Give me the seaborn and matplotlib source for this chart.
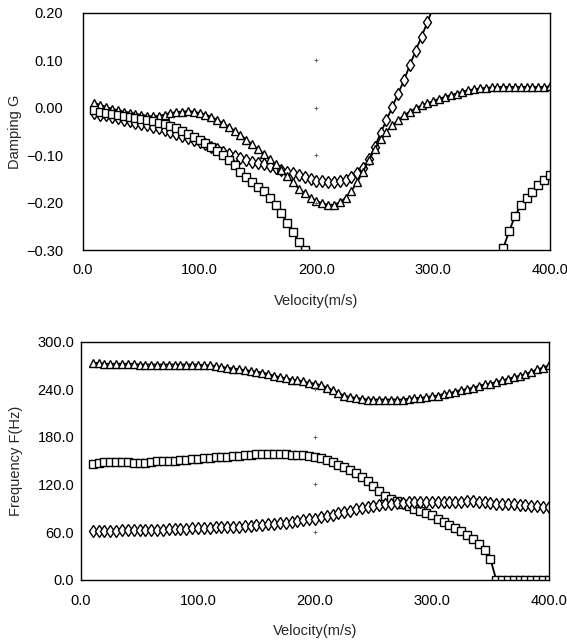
import numpy as np
import pandas as pd
import matplotlib
matplotlib.use("Agg")
import matplotlib.pyplot as plt
import seaborn as sns

# velocity grid (m/s), one marker every 5 m/s
velocity = np.arange(10, 401, 5)

# damping G, mode with diamonds (goes off the top after ~300 m/s)
g_diamond = [-0.011, -0.014, -0.016, -0.019, -0.022, -0.025, -0.028, -0.031, -0.034, -0.037,
             -0.040, -0.043, -0.047, -0.051, -0.055, -0.059, -0.063, -0.067, -0.072, -0.077,
             -0.082, -0.087, -0.092, -0.097, -0.101, -0.105, -0.109, -0.113, -0.116, -0.119,
             -0.123, -0.127, -0.130, -0.134, -0.137, -0.141, -0.146, -0.150, -0.153, -0.155,
             -0.156, -0.156, -0.154, -0.151, -0.146, -0.138, -0.126, -0.108, -0.082, -0.053,
             -0.026, 0.002, 0.030, 0.058, 0.090, 0.120, 0.150, 0.180, 0.212, 0.245]
# damping G, mode with triangles
g_triangle = [0.010, 0.006, 0.002, -0.002, -0.005, -0.008, -0.010, -0.013, -0.015, -0.017,
              -0.018, -0.017, -0.014, -0.011, -0.009, -0.008, -0.007, -0.008, -0.011, -0.014,
              -0.019, -0.025, -0.032, -0.040, -0.048, -0.057, -0.067, -0.077, -0.087, -0.097,
              -0.108, -0.119, -0.131, -0.144, -0.157, -0.170, -0.180, -0.189, -0.196, -0.201,
              -0.204, -0.204, -0.199, -0.189, -0.175, -0.156, -0.134, -0.110, -0.087, -0.066,
              -0.050, -0.037, -0.026, -0.016, -0.008, -0.001, 0.005, 0.010, 0.014, 0.019,
              0.023, 0.027, 0.030, 0.034, 0.037, 0.039, 0.041, 0.042, 0.043, 0.044,
              0.044, 0.044, 0.044, 0.044, 0.044, 0.044, 0.044, 0.044, 0.045]
# damping G, mode with squares: low-speed branch and high-speed branch
g_square_lo = [-0.005, -0.008, -0.011, -0.013, -0.015, -0.017, -0.019, -0.021, -0.023, -0.025,
               -0.028, -0.031, -0.034, -0.038, -0.043, -0.049, -0.055, -0.061, -0.068, -0.075,
               -0.083, -0.091, -0.100, -0.110, -0.121, -0.134, -0.146, -0.157, -0.166, -0.176,
               -0.189, -0.204, -0.222, -0.242, -0.262, -0.282, -0.300, -0.320]
g_square_hi = [-0.330, -0.295, -0.260, -0.228, -0.205, -0.190, -0.177, -0.163, -0.151, -0.141]

# frequency F (Hz)
f_triangle = [273, 273, 272, 272, 272, 272, 272, 272, 271, 271,
              271, 271, 271, 271, 271, 271, 271, 271, 271, 270,
              270, 269, 268, 267, 266, 265, 264, 263, 262, 261,
              259, 257, 255, 254, 252, 251, 250, 248, 247, 245,
              242, 239, 235, 232, 230, 229, 228, 227, 227, 227,
              227, 227, 227, 227, 228, 229, 229, 230, 231, 232,
              234, 235, 237, 239, 240, 242, 244, 246, 247, 249,
              251, 253, 255, 257, 259, 262, 265, 267, 270]
f_square = [146, 147, 148, 148, 148, 148, 148, 147, 147, 147,
            148, 149, 149, 150, 150, 151, 151, 152, 152, 153,
            153, 154, 155, 155, 156, 156, 157, 157, 158, 158,
            158, 158, 158, 158, 157, 157, 157, 156, 155, 153,
            151, 148, 145, 142, 138, 134, 129, 124, 118, 112,
            106, 102, 99, 96, 93, 89, 86, 84, 81, 77,
            73, 69, 65, 61, 56, 51, 45, 37, 26, 0,
            0, 0, 0, 0, 0, 0, 0, 0, 0]
f_diamond = [61, 61, 62, 62, 62, 63, 63, 63, 63, 63,
             63, 63, 63, 64, 64, 64, 64, 65, 65, 65,
             65, 66, 66, 66, 67, 67, 68, 68, 69, 69,
             70, 70, 71, 72, 73, 74, 75, 76, 77, 79,
             80, 82, 84, 85, 87, 89, 90, 92, 93, 94,
             95, 96, 97, 97, 98, 98, 98, 98, 98, 98,
             98, 98, 98, 98, 99, 99, 98, 98, 97, 96,
             96, 95, 95, 94, 94, 93, 93, 92, 92]

g_ticks = [-0.30, -0.20, -0.10, 0.00, 0.10, 0.20]
f_ticks = [0, 60, 120, 180, 240, 300]
v_ticks = [0, 100, 200, 300, 400]

sns.set_theme(style="white")
plt.rcParams["font.family"] = ["Liberation Sans", "DejaVu Sans"]
plt.rcParams["font.size"] = 10.5

fig = plt.figure(figsize=(5.67, 6.42), dpi=100)
ax1 = fig.add_axes([0.146, 0.610, 0.824, 0.370])
ax2 = fig.add_axes([0.143, 0.097, 0.825, 0.371])

style = dict(color="black", linewidth=1.3, markerfacecolor="white",
             markeredgecolor="black", markeredgewidth=1.0, legend=False)


def series(ax, x, y, marker, ms):
    sns.lineplot(x=list(x), y=list(y), ax=ax, marker=marker, markersize=ms, **style)


# top: damping
series(ax1, velocity[:len(g_diamond)], g_diamond, "d", 6.5)
series(ax1, velocity, g_triangle, "^", 6)
series(ax1, velocity[:len(g_square_lo)], g_square_lo, "s", 5.5)
series(ax1, velocity[-len(g_square_hi):], g_square_hi, "s", 5.5)

# bottom: frequency
series(ax2, velocity, f_triangle, "^", 6)
series(ax2, velocity, f_square, "s", 5.5)
series(ax2, velocity, f_diamond, "d", 6.5)

for ax, ticks in ((ax1, g_ticks), (ax2, f_ticks)):
    ax.set_xlim(0, 400)
    ax.set_ylim(ticks[0], ticks[-1])
    ax.set_xticks(v_ticks)
    ax.set_xticklabels([f"{t:.1f}" for t in v_ticks])
    ax.set_yticks(ticks)
    for s in ax.spines.values():
        s.set_color("black")
        s.set_linewidth(1.0)
    ax.set_xlabel("Velocity(m/s)", fontsize=10.5, labelpad=12)
    # small cross marks in the middle of the frame
    ax.plot([200] * (len(ticks) - 2), ticks[1:-1], linestyle="none", marker="+",
            markersize=3, color="0.35", markeredgewidth=0.6)

ax1.set_yticklabels([f"{t:.2f}".replace("-", "\u2212") for t in g_ticks])
ax2.set_yticklabels([f"{t:.1f}" for t in f_ticks])
ax1.tick_params(axis="both", length=0, labelsize=10.5, colors="black")
ax1.tick_params(axis="y", pad=14)
ax1.tick_params(axis="x", pad=9)
ax2.tick_params(axis="both", length=0, labelsize=10.5, colors="black")
ax2.tick_params(axis="y", pad=5)
ax2.tick_params(axis="x", pad=10)

ax1.set_ylabel("Damping G", fontsize=10.5, labelpad=3)
ax2.set_ylabel("Frequency F(Hz)", fontsize=10.5, labelpad=10)

fig.savefig("out.png", dpi=100)
